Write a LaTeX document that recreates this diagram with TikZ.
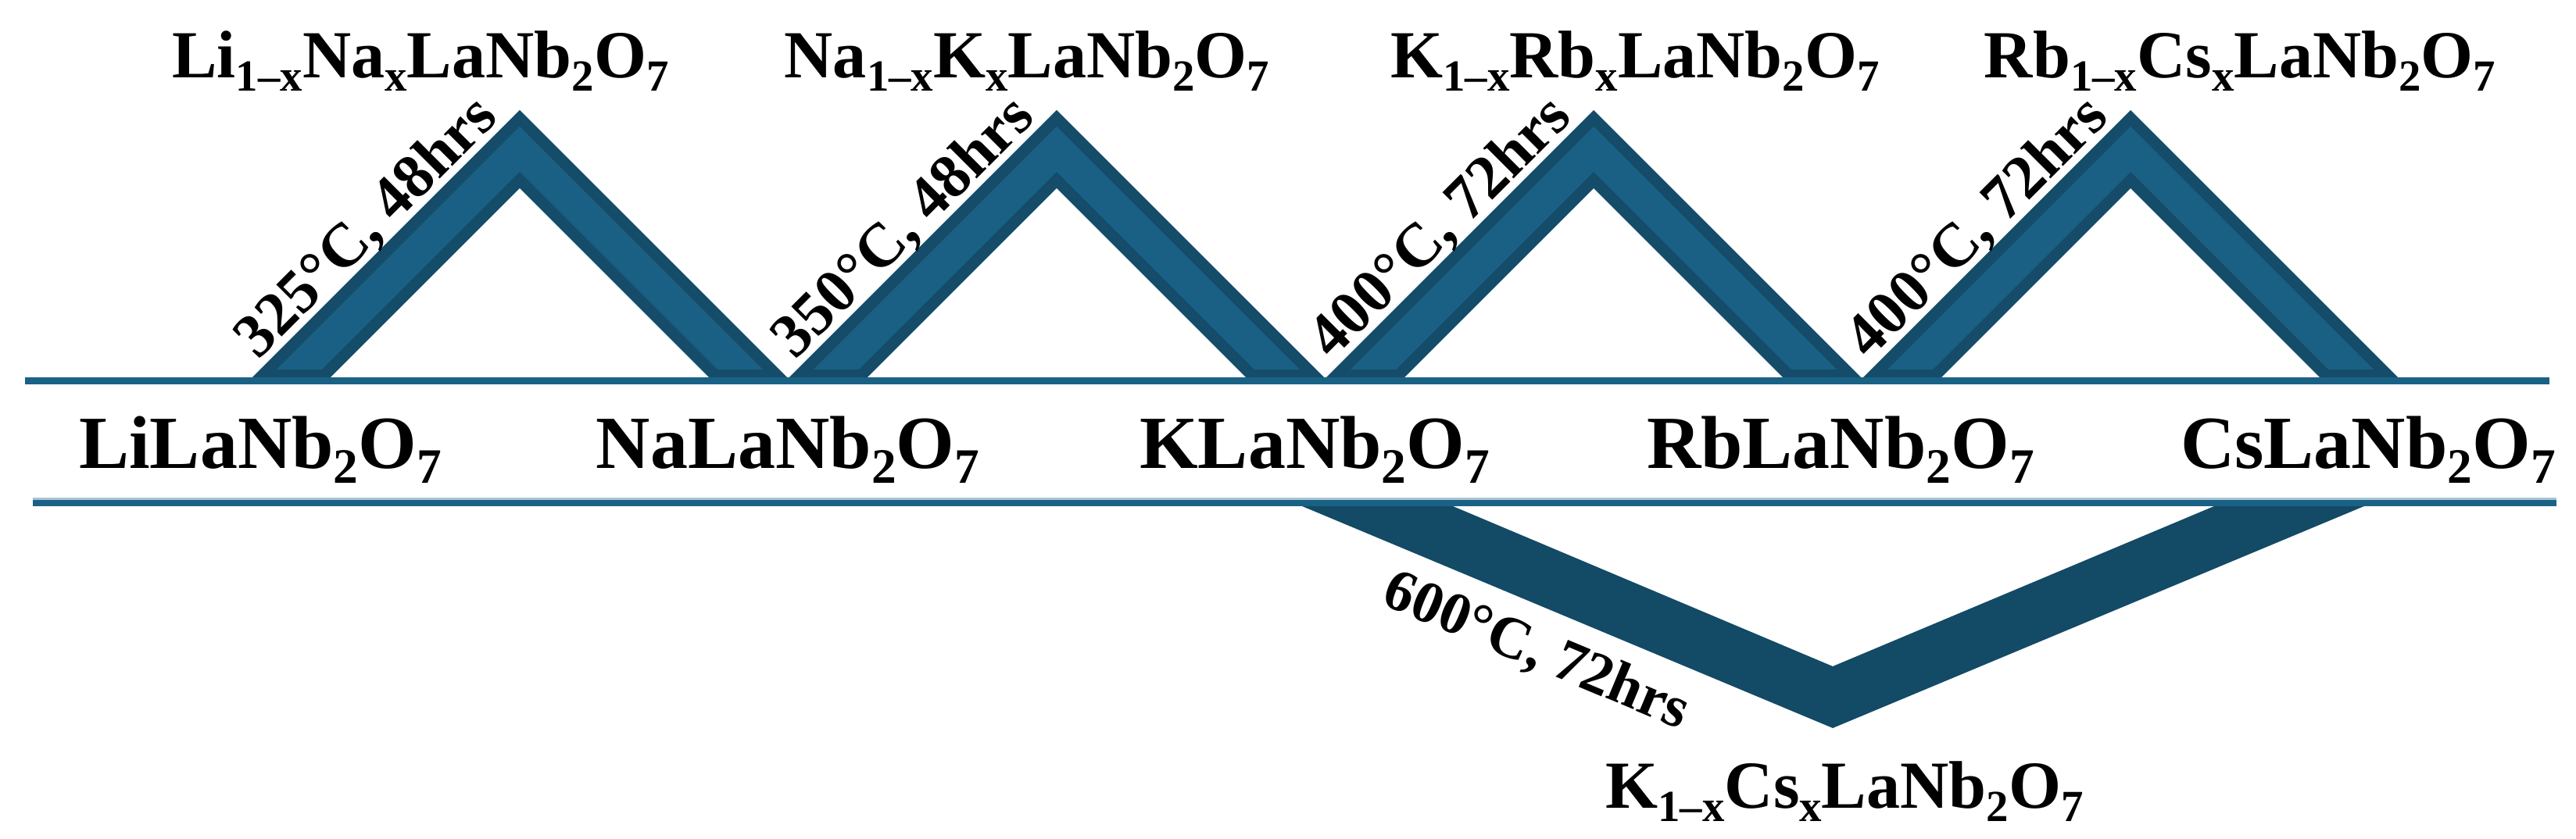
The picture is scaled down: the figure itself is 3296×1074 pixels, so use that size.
\documentclass[tikz,border=0pt]{standalone}
\usepackage{fontspec}
\setmainfont{Liberation Serif}
\makeatletter
\newcommand\csub[1]{{\edef\tmpsz{\fpeval{round(0.66*\f@size,2)}}\raisebox{-0.19em}{\fontsize{\tmpsz}{\tmpsz}\selectfont #1}}}
\makeatother
\definecolor{bandLight}{HTML}{1A6084}
\definecolor{bandDark}{HTML}{144C69}
\definecolor{vcol}{HTML}{134A66}
\definecolor{linecol}{HTML}{1A6285}
\definecolor{lightstrip}{HTML}{A9C4D2}
\tikzset{
  midlab/.style={font=\fontsize{27.3}{30}\bfseries\selectfont, anchor=base, inner sep=0pt},
  toplab/.style={font=\fontsize{24.5}{28}\bfseries\selectfont, anchor=base, inner sep=0pt},
  condlab/.style={font=\fontsize{22.5}{26}\bfseries\selectfont, anchor=base, inner sep=0pt, rotate=45},
  vlab/.style={font=\fontsize{21.5}{25}\bfseries\selectfont, anchor=north, inner sep=0pt, rotate=-22.7},
}
\begin{document}
\begin{tikzpicture}[x=0.01cm, y=-0.01cm]
\useasboundingbox (0,0) rectangle (3296,1074);
\fill[white] (0,0) rectangle (3296,1074);
% triangles (up-going bands)
\foreach \ax/\t [count=\i] in {665/{325°C, 48hrs},1352/{350°C, 48hrs},2039/{400°C, 72hrs},2726/{400°C, 72hrs}}{
  \fill[bandDark] (\ax-342,483) -- (\ax,141) -- (\ax+342,483) -- (\ax+242,483) -- (\ax,241) -- (\ax-242,483) -- cycle;
  \fill[bandLight] (\ax-311,473) -- (\ax,162) -- (\ax+311,473) -- (\ax+253,473) -- (\ax,220) -- (\ax-253,473) -- cycle;
  \node[condlab] (cond\i) at (\ax-180,307) {\t};
}
% V band (down-going)
\fill[vcol] (1647,640) -- (2345,932) -- (3044,640) -- (2852,640) -- (2345,853) -- (1840,640) -- cycle;
\node[vlab] (cond5) at (1978,804) {600°C, 72hrs};
% horizontal lines
\fill[linecol] (32,483) rectangle (3262,492);
\fill[lightstrip] (42,637) rectangle (3271,640);
\fill[linecol] (42,640) rectangle (3271,648);
% middle labels
\node[midlab] (li) at (333,600) {LiLaNb\csub{2}O\csub{7}};
\node[midlab] (na) at (1008,600) {NaLaNb\csub{2}O\csub{7}};
\node[midlab] (k)  at (1682,600) {KLaNb\csub{2}O\csub{7}};
\node[midlab] (rb) at (2355,600) {RbLaNb\csub{2}O\csub{7}};
\node[midlab] (cs) at (3030,600) {CsLaNb\csub{2}O\csub{7}};
% top labels
\node[toplab] (lina) at (538,100) {Li\csub{1\textendash x}Na\csub{x}LaNb\csub{2}O\csub{7}};
\node[toplab] (nak)  at (1314,100) {Na\csub{1\textendash x}K\csub{x}LaNb\csub{2}O\csub{7}};
\node[toplab] (krb)  at (2092,100) {K\csub{1\textendash x}Rb\csub{x}LaNb\csub{2}O\csub{7}};
\node[toplab] (rbcs) at (2866,100) {Rb\csub{1\textendash x}Cs\csub{x}LaNb\csub{2}O\csub{7}};
% bottom label
\node[toplab] (kcs) at (2360,1035) {K\csub{1\textendash x}Cs\csub{x}LaNb\csub{2}O\csub{7}};
\end{tikzpicture}
\end{document}
